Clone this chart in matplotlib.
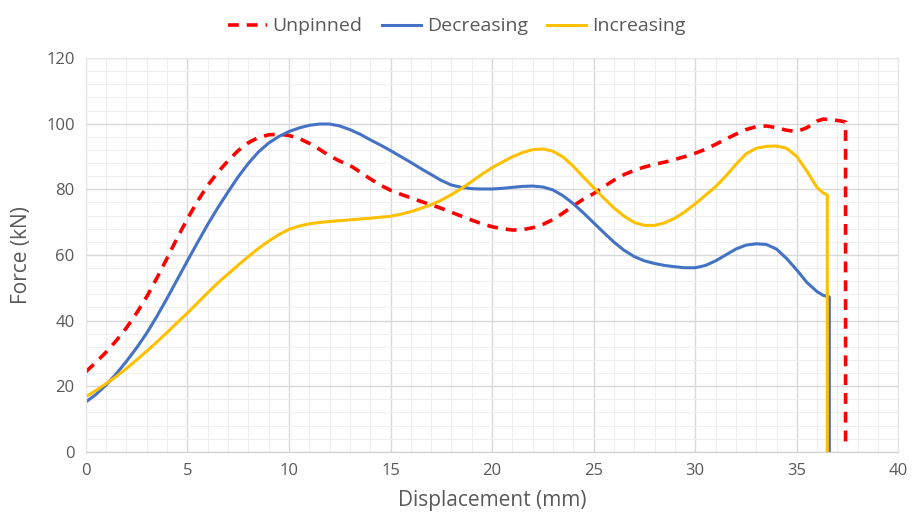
import matplotlib.pyplot as plt
from matplotlib.ticker import MultipleLocator

plt.rcParams['font.family'] = ['Open Sans', 'DejaVu Sans']

# ── data ─────────────────────────────────────────────────────────────────────
unpinned_x = [0, 0.5, 1, 1.5, 2, 2.5, 3, 3.5, 4, 4.5, 5, 5.5, 6, 6.5, 7, 7.5,
              8, 8.5, 9, 9.5, 10, 10.5, 11, 11.5, 12, 12.5, 13, 13.5, 14, 14.5,
              15, 15.5, 16, 16.5, 17, 17.5, 18, 18.5, 19, 19.5, 20, 20.5, 21,
              21.5, 22, 22.5, 23, 23.5, 24, 24.5, 25, 25.5, 26, 26.5, 27, 27.5,
              28, 28.5, 29, 29.5, 30, 30.5, 31, 31.5, 32, 32.5, 33, 33.5, 34,
              34.5, 35, 35.5, 36, 36.3, 36.7, 37.1, 37.4, 37.4]
unpinned_y = [24.4, 27.3, 30.4, 33.9, 37.8, 42.3, 47.3, 53, 59, 65.2, 71, 76.4,
              81.2, 85.2, 88.7, 91.8, 94.2, 95.8, 96.6, 96.8, 96.4, 95.5, 94,
              92.2, 90.2, 88.6, 87.3, 85.3, 83.2, 81.3, 79.7, 78.5, 77.4, 76.3,
              75.3, 74.2, 73, 71.8, 70.6, 69.5, 68.6, 68, 67.6, 67.7, 68.3,
              69.3, 70.8, 72.8, 75, 77, 78.7, 80.8, 82.8, 84.5, 85.8, 86.8,
              87.6, 88.3, 89.1, 90, 91, 92.2, 93.7, 95.3, 96.8, 98.2, 99.1,
              99.3, 98.8, 98, 97.6, 98.8, 100.8, 101.4, 101.2, 100.9, 100.5, 2]

decreasing_x = [0, 0.5, 1, 1.5, 2, 2.5, 3, 3.5, 4, 4.5, 5, 5.5, 6, 6.5, 7, 7.5,
                8, 8.5, 9, 9.5, 10, 10.5, 11, 11.5, 12, 12.5, 13, 13.5, 14,
                14.5, 15, 15.5, 16, 16.5, 17, 17.5, 18, 18.5, 19, 19.5, 20,
                20.5, 21, 21.5, 22, 22.5, 23, 23.5, 24, 24.5, 25, 25.5, 26,
                26.5, 27, 27.5, 28, 28.5, 29, 29.5, 30, 30.5, 31, 31.5, 32,
                32.5, 33, 33.5, 34, 34.5, 35, 35.5, 36, 36.3, 36.6, 36.6]
decreasing_y = [15.2, 17.5, 20.4, 23.8, 27.6, 31.7, 36.2, 41.3, 46.8, 52.5,
                58.2, 63.8, 69.3, 74.4, 79.2, 83.8, 87.9, 91.4, 94.1, 96.1,
                97.6, 98.7, 99.5, 99.9, 99.9, 99.3, 98.2, 96.8, 95.1, 93.5,
                91.8, 90, 88.2, 86.3, 84.5, 82.7, 81.3, 80.6, 80.2, 80.1, 80.1,
                80.3, 80.6, 80.9, 81, 80.7, 79.8, 78, 75.6, 72.8, 69.8, 66.8,
                63.9, 61.4, 59.5, 58.2, 57.4, 56.8, 56.4, 56.1, 56.1, 56.8,
                58.2, 60, 61.8, 63, 63.4, 63.2, 61.8, 58.9, 55.4, 51.6, 48.8,
                47.7, 47.2, 0]

increasing_x = [0, 0.5, 1, 1.5, 2, 2.5, 3, 3.5, 4, 4.5, 5, 5.5, 6, 6.5, 7, 7.5,
                8, 8.5, 9, 9.5, 10, 10.5, 11, 11.5, 12, 13, 14, 15, 15.5, 16,
                16.5, 17, 17.5, 18, 18.5, 19, 19.5, 20, 20.5, 21, 21.5, 22,
                22.5, 23, 23.5, 24, 24.5, 25, 25.5, 26, 26.5, 27, 27.5, 28,
                28.5, 29, 29.5, 30, 30.5, 31, 31.5, 32, 32.5, 33, 33.5, 34,
                34.5, 35, 35.5, 36, 36.3, 36.5, 36.5]
increasing_y = [16.8, 18.7, 20.8, 23, 25.4, 28, 30.7, 33.5, 36.4, 39.4, 42.3,
                45.4, 48.5, 51.5, 54.2, 56.9, 59.5, 62, 64.2, 66.2, 67.8, 68.8,
                69.5, 69.9, 70.2, 70.7, 71.2, 71.8, 72.4, 73.2, 74.2, 75.3,
                76.7, 78.4, 80.3, 82.4, 84.6, 86.6, 88.3, 89.9, 91.2, 92.1,
                92.3, 91.6, 89.8, 87, 83.7, 80.5, 77.3, 74.3, 71.8, 69.9, 69,
                69, 69.8, 71.2, 73.2, 75.6, 78.2, 80.8, 84, 87.6, 90.8, 92.5,
                93.1, 93.2, 92.5, 90, 85.5, 80.5, 78.9, 78.3, 0]

fig = plt.figure(figsize=(9.13, 5.23), dpi=100)
ax = fig.add_axes([0.094, 0.136, 0.890, 0.753])

ax.plot(unpinned_x, unpinned_y, color='#FF0000', lw=2.6, ls=(0, (3, 2.2)),
        label='Unpinned')
ax.plot(decreasing_x, decreasing_y, color='#4472C4', lw=2.2, label='Decreasing')
ax.plot(increasing_x, increasing_y, color='#FFC000', lw=2.2, label='Increasing')

ax.set_xlim(0, 40)
ax.set_ylim(0, 120)
ax.xaxis.set_major_locator(MultipleLocator(5))
ax.xaxis.set_minor_locator(MultipleLocator(1))
ax.yaxis.set_major_locator(MultipleLocator(20))
ax.yaxis.set_minor_locator(MultipleLocator(4))
ax.grid(which='major', color='#D9D9D9', lw=1.0)
ax.grid(which='minor', color='#EFEFEF', lw=0.8)
ax.set_axisbelow(True)

for side in ['top', 'right', 'left']:
    ax.spines[side].set_color('#E6E6E6')
ax.spines['bottom'].set_color('#D0D0D0')
ax.tick_params(which='both', length=0, labelsize=12, colors='#595959', pad=8)

ax.set_xlabel('Displacement (mm)', fontsize=15, color='#595959', labelpad=8)
ax.set_ylabel('Force (kN)', fontsize=15, color='#595959', labelpad=10)

fig.legend(loc='upper center', bbox_to_anchor=(0.5, 1.0), ncol=3, frameon=False,
           fontsize=14, labelcolor='#595959', handlelength=2.0,
           columnspacing=1.0, handletextpad=0.3)

fig.savefig('out.png', dpi=100)
